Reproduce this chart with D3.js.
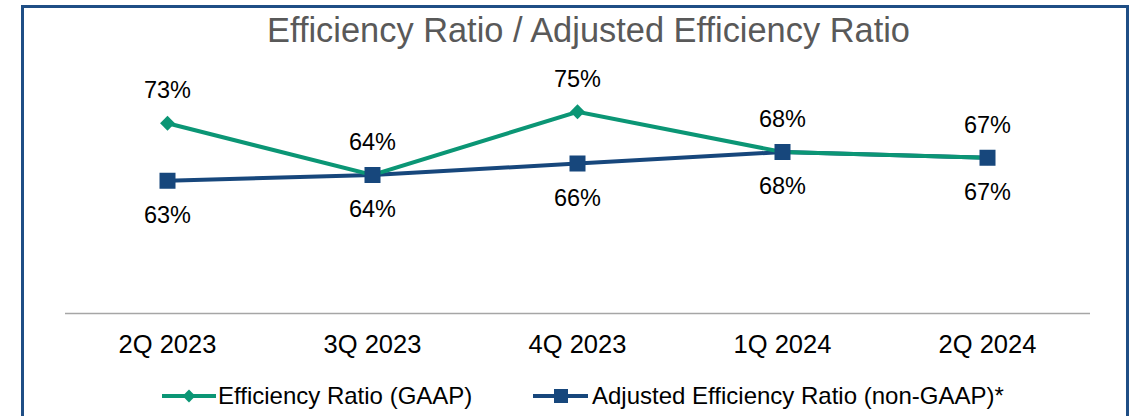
<!DOCTYPE html>
<html><head><meta charset="utf-8">
<script src="https://cdn.jsdelivr.net/npm/d3@7"></script>
<style>html,body{margin:0;padding:0;background:#fff;}svg{display:block;font-family:"Liberation Sans",Arial,sans-serif;}</style>
</head><body>
<svg id="c" width="1143" height="416"></svg>
<script>
const categories = ["2Q 2023","3Q 2023","4Q 2023","1Q 2024","2Q 2024"];
const gaapValues = [73.0, 64.0, 75.0, 68.0, 67.0];
const adjValues = [63.0, 64.0, 66.0, 68.0, 67.0];
const gaapLabels = ["73%","64%","75%","68%","67%"];
const adjLabels = ["63%","64%","66%","68%","67%"];
const seriesNames = ["Efficiency Ratio (GAAP)","Adjusted Efficiency Ratio (non-GAAP)*"];
const title = "Efficiency Ratio / Adjusted Efficiency Ratio";

const green = "#0b9675", blue = "#17477c";
const svg = d3.select("#c");

svg.append("rect").attr("x",22.5).attr("y",6.5).attr("width",1105).attr("height",430)
  .attr("fill","none").attr("stroke","#1f4e85").attr("stroke-width",3);

svg.append("text").attr("x",588.5).attr("y",42).attr("text-anchor","middle")
  .attr("font-size",34.4).attr("fill","#595959").text(title);

const x = d3.scaleBand().domain(categories).range([65,1090]);
const y = d3.scaleLinear().domain([40,80]).range([313,83]);
const cx = c => x(c) + x.bandwidth()/2;

svg.append("line").attr("x1",65).attr("x2",1090).attr("y1",313.5).attr("y2",313.5)
  .attr("stroke","#a6a6a6").attr("stroke-width",1.5);

const xAxis = d3.axisBottom(x).tickSize(0).tickPadding(0);
const gx = svg.append("g").attr("transform","translate(0,313)").call(xAxis);
gx.select(".domain").remove();
gx.selectAll("text").attr("font-size",25.5).attr("fill","#000").attr("dy",null).attr("y",40)
  .attr("font-family","Liberation Sans, Arial, sans-serif");

const line = d3.line().x((d,i)=>cx(categories[i])).y(d=>y(d));

svg.append("path").datum(adjValues).attr("d",line).attr("fill","none").attr("stroke",blue).attr("stroke-width",4);
svg.append("path").datum(gaapValues).attr("d",line).attr("fill","none").attr("stroke",green).attr("stroke-width",4);

const diamond = d3.symbol().type(d3.symbolDiamond2).size(140);
svg.selectAll(".dm").data(gaapValues).join("path").attr("class","dm")
  .attr("d",diamond).attr("fill",green)
  .attr("transform",(d,i)=>`translate(${cx(categories[i])},${y(d)})`);
svg.selectAll(".sq").data(adjValues).join("rect").attr("class","sq")
  .attr("x",(d,i)=>cx(categories[i])-8).attr("y",d=>y(d)-8).attr("width",16).attr("height",16).attr("fill",blue);

svg.selectAll(".gl").data(gaapValues).join("text").attr("class","gl")
  .attr("x",(d,i)=>cx(categories[i])).attr("y",d=>y(d)-25).attr("text-anchor","middle")
  .attr("font-size",23.5).attr("fill","#000").text((d,i)=>gaapLabels[i]);
svg.selectAll(".al").data(adjValues).join("text").attr("class","al")
  .attr("x",(d,i)=>cx(categories[i])).attr("y",d=>y(d)+42).attr("text-anchor","middle")
  .attr("font-size",23.5).attr("fill","#000").text((d,i)=>adjLabels[i]);

// legend
const lg = svg.append("g");
lg.append("line").attr("x1",162).attr("x2",216).attr("y1",396).attr("y2",396).attr("stroke",green).attr("stroke-width",4);
lg.append("path").attr("d",d3.symbol().type(d3.symbolDiamond2).size(105)()).attr("fill",green)
  .attr("transform","translate(189,396)");
lg.append("text").attr("x",218).attr("y",404).attr("font-size",24).attr("fill","#000").text(seriesNames[0]);
lg.append("line").attr("x1",533).attr("x2",588).attr("y1",396).attr("y2",396).attr("stroke",blue).attr("stroke-width",4);
lg.append("rect").attr("x",554).attr("y",389).attr("width",14).attr("height",14).attr("fill",blue);
lg.append("text").attr("x",592).attr("y",404).attr("font-size",24).attr("fill","#000").text(seriesNames[1]);
</script>
</body></html>
